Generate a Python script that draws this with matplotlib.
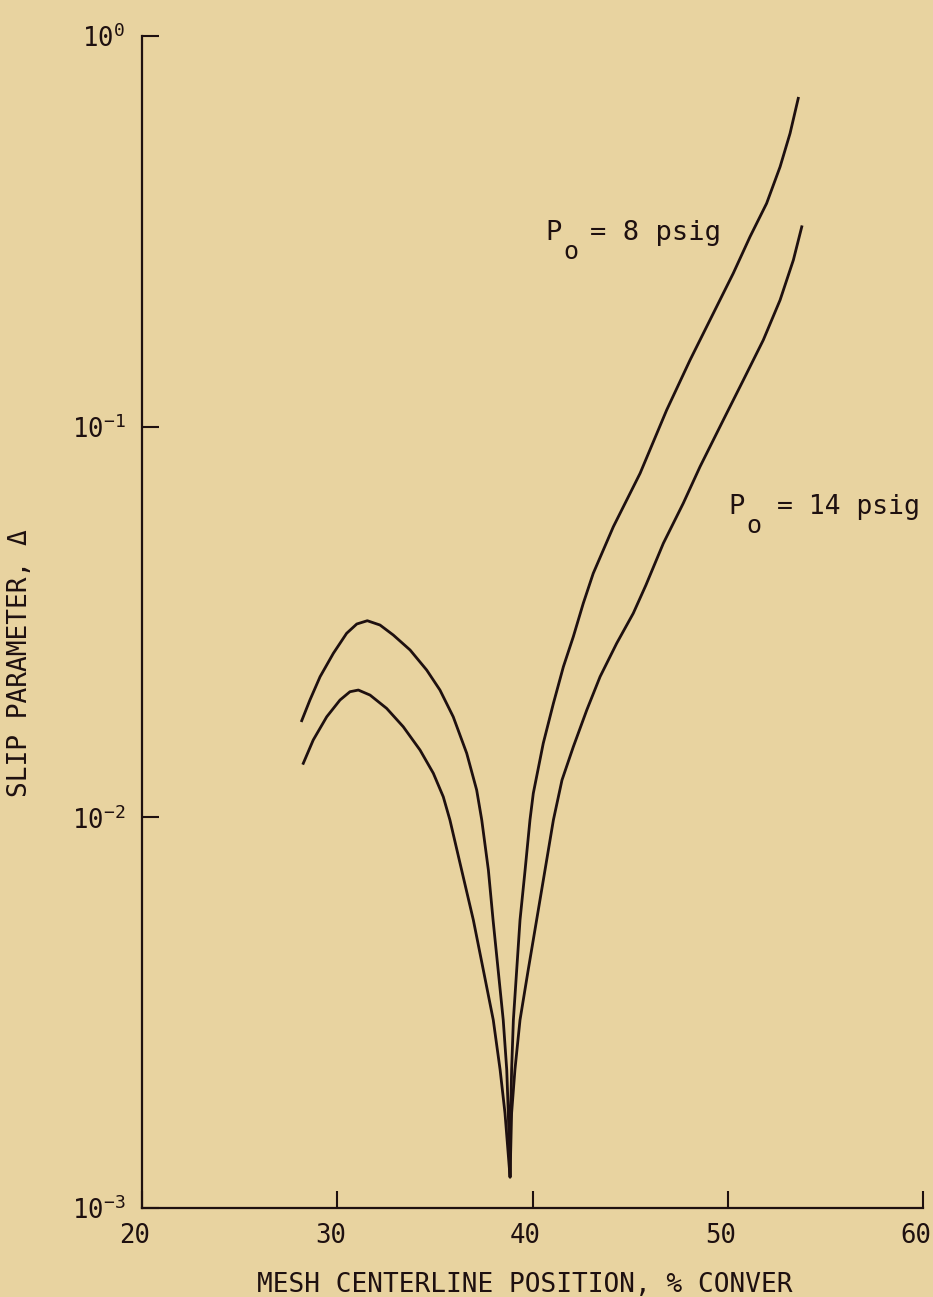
import matplotlib
matplotlib.use("Agg")
import matplotlib.pyplot as plt
import matplotlib.transforms as mtransforms

# upper curve, Po = 8 psig
x_8psig = [28.18, 28.60, 29.12, 29.80, 30.48, 31.00, 31.54, 32.19, 32.87, 33.73, 34.58, 35.26,
           35.94, 36.63, 37.14, 37.40, 37.74, 37.98, 38.50, 38.68, 38.76, 38.85,
           38.88, 38.93, 39.02, 39.36, 39.62, 39.87, 40.04, 40.55, 41.07, 41.58, 42.09, 42.60,
           43.11, 44.14, 45.51, 46.87, 48.07, 49.26, 50.28, 51.14, 51.99, 52.68, 53.19, 53.61]
y_8psig = [0.01768, 0.01997, 0.02291, 0.02630, 0.02959, 0.03126, 0.03187, 0.03107, 0.02929,
           0.02682, 0.02383, 0.02118, 0.01809, 0.01459, 0.01175, 0.00985, 0.00733, 0.00546,
           0.00303, 0.00226, 0.00175, 0.00120,
           0.00175, 0.00226, 0.00303, 0.00546, 0.00733, 0.00985, 0.01152, 0.01547, 0.01958,
           0.02429, 0.02901, 0.03531, 0.04213, 0.05546, 0.07598, 0.1103, 0.1482, 0.1951,
           0.2469, 0.3064, 0.3730, 0.4628, 0.5634, 0.6928]

# lower curve, Po = 14 psig
x_14psig = [28.26, 28.77, 29.46, 30.14, 30.65, 31.08, 31.68, 32.53, 33.38, 34.24, 34.92, 35.43,
            35.77, 36.37, 36.97, 37.48, 37.99, 38.34, 38.59, 38.85,
            38.93, 39.10, 39.36, 39.78, 40.21, 40.64, 41.07, 41.51, 42.09, 42.78, 43.46, 44.31,
            45.16, 45.81, 46.70, 47.72, 48.58, 49.77, 50.80, 51.82, 52.68, 53.36, 53.79]
y_14psig = [0.01375, 0.01578, 0.01809, 0.01997, 0.02097, 0.02118, 0.02056, 0.01901, 0.01706,
            0.01487, 0.01297, 0.01129, 0.00985, 0.00733, 0.00546, 0.00407, 0.00303, 0.00226,
            0.00175, 0.00120,
            0.00175, 0.00226, 0.00303, 0.00407, 0.00546, 0.00733, 0.00985, 0.01246, 0.01516,
            0.01883, 0.02291, 0.02789, 0.03329, 0.03933, 0.05029, 0.06367, 0.07902, 0.1040,
            0.1317, 0.1667, 0.2110, 0.2671, 0.3249]

x_ticks = [20, 30, 40, 50, 60]
y_ticks = [1e-3, 1e-2, 1e-1, 1e0]
y_ticklabels = [r"$\mathregular{10^{-3}}$", r"$\mathregular{10^{-2}}$",
                r"$\mathregular{10^{-1}}$", r"$\mathregular{10^{0}}$"]

bg = "#e8d3a0"
ink = "#1e1010"

plt.rcParams["font.family"] = ["DejaVu Sans Mono"]
plt.rcParams["mathtext.fontset"] = "custom"
plt.rcParams["mathtext.rm"] = "DejaVu Sans Mono"
plt.rcParams["mathtext.it"] = "DejaVu Sans Mono"

fig = plt.figure(figsize=(9.33, 12.97), dpi=100, facecolor=bg)
ax = fig.add_axes([0.1522, 0.0686, 0.8371, 0.9036])
ax.set_facecolor(bg)

ax.plot(x_8psig, y_8psig, color=ink, lw=2.0)
ax.plot(x_14psig, y_14psig, color=ink, lw=2.0)

ax.set_yscale("log")
ax.set_xlim(20, 60)
ax.set_ylim(1e-3, 1e0)
ax.set_xticks(x_ticks)
ax.set_xticklabels([str(t) for t in x_ticks])
ax.set_yticks(y_ticks)
ax.set_yticklabels(y_ticklabels)
ax.yaxis.set_minor_locator(matplotlib.ticker.NullLocator())

for s in ["top", "right"]:
    ax.spines[s].set_visible(False)
for s in ["left", "bottom"]:
    ax.spines[s].set_color(ink)
    ax.spines[s].set_linewidth(1.6)

ax.tick_params(axis="both", direction="in", length=12, width=1.5, color=ink,
               labelcolor=ink, labelsize=18.5)
ax.tick_params(axis="x", pad=11)
ax.tick_params(axis="y", pad=12)

# tick labels sit a little left of their ticks in the original
shift = mtransforms.ScaledTranslation(-7 / 100, 0, fig.dpi_scale_trans)
for lab in ax.get_xticklabels():
    lab.set_transform(lab.get_transform() + shift)

ax.set_xlabel("MESH CENTERLINE POSITION, % CONVER", fontsize=18.8, color=ink, labelpad=16)
ax.xaxis.label.set_x(0.4904)
ax.set_ylabel("SLIP PARAMETER, Δ", fontsize=18.8, color=ink)
ax.yaxis.set_label_coords(-0.1396, 0.465)

# curve labels: P, subscript o, and the rest
ax.text(40.64, 0.313, "P", fontsize=19.5, color=ink, va="center")
ax.text(41.56, 0.280, "o", fontsize=18, color=ink, va="center")
ax.text(42.94, 0.313, "= 8 psig", fontsize=19.5, color=ink, va="center")
ax.text(50.01, 0.0623, "P", fontsize=19.5, color=ink, va="center")
ax.text(50.93, 0.0557, "o", fontsize=18, color=ink, va="center")
ax.text(52.52, 0.0623, "= 14 psig", fontsize=19, color=ink, va="center")

fig.savefig("out.png", dpi=100, facecolor=bg)
